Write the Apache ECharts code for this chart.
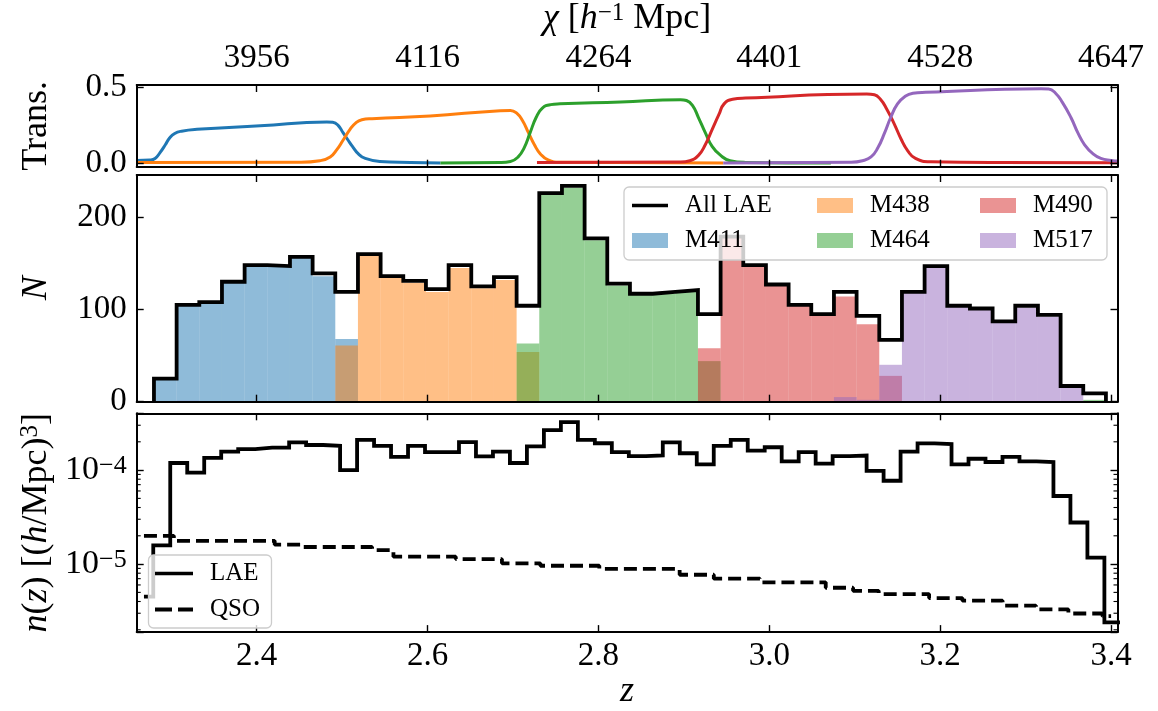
<!DOCTYPE html>
<html>
<head>
<meta charset="utf-8">
<script src="https://cdn.jsdelivr.net/npm/echarts@6/dist/echarts.min.js"></script>
<style>
  html, body { margin: 0; padding: 0; background: #fff; }
  #chart { width: 1158px; height: 711px; }
</style>
</head>
<body>
<div id="chart"></div>
<script>
// ---- shared redshift axis ----
const Z_MIN = 2.2595, Z_MAX = 3.4075;
const zTicks = [2.4, 2.6, 2.8, 3.0, 3.2, 3.4];
const chiTickLabels = ['3956', '4116', '4264', '4401', '4528', '4647'];

// ---- filter transmission curves, [z, T] ----
const transM411 = [[2.2594,0.017],[2.275,0.02],[2.281,0.03],[2.287,0.07],[2.293,0.12],[2.298,0.165],[2.304,0.195],[2.312,0.21],[2.330,0.222],[2.404,0.245],[2.482,0.27],[2.489,0.268],[2.495,0.25],[2.501,0.20],[2.507,0.15],[2.512,0.11],[2.519,0.06],[2.527,0.03],[2.544,0.01],[2.580,0.003],[2.615,0.0]];
const transM438 = [[2.2594,0.003],[2.451,0.005],[2.474,0.015],[2.486,0.04],[2.494,0.09],[2.501,0.15],[2.509,0.22],[2.516,0.265],[2.523,0.285],[2.535,0.292],[2.603,0.31],[2.685,0.345],[2.697,0.347],[2.704,0.33],[2.711,0.28],[2.718,0.20],[2.725,0.12],[2.732,0.06],[2.741,0.02],[2.755,0.005],[2.946,0.0]];
const transM464 = [[2.615,0.0],[2.685,0.003],[2.697,0.01],[2.706,0.04],[2.713,0.10],[2.720,0.20],[2.727,0.30],[2.734,0.36],[2.744,0.385],[2.755,0.39],[2.826,0.403],[2.896,0.418],[2.903,0.412],[2.910,0.38],[2.917,0.30],[2.925,0.20],[2.933,0.11],[2.943,0.05],[2.954,0.015],[2.972,0.004],[3.072,0.0]];
const transM490 = [[2.728,0.004],[2.896,0.006],[2.907,0.015],[2.917,0.05],[2.925,0.12],[2.933,0.22],[2.941,0.32],[2.947,0.39],[2.957,0.42],[2.972,0.428],[3.114,0.455],[3.123,0.45],[3.130,0.42],[3.137,0.36],[3.146,0.26],[3.154,0.16],[3.162,0.08],[3.171,0.03],[3.189,0.008],[3.271,0.003],[3.409,0.002]];
const transM517 = [[2.946,0.0],[3.095,0.005],[3.109,0.015],[3.119,0.04],[3.127,0.10],[3.135,0.20],[3.142,0.30],[3.150,0.39],[3.159,0.44],[3.168,0.46],[3.183,0.466],[3.318,0.49],[3.327,0.488],[3.335,0.46],[3.343,0.40],[3.353,0.30],[3.361,0.20],[3.369,0.12],[3.379,0.06],[3.388,0.03],[3.400,0.017],[3.409,0.013]];

// ---- LAE counts per redshift bin (42 bins) ----
const countBinStart = 2.2797, countBinWidth = 0.02653;
const countAll  = [25,105,108,130,148,147,157,139,119,160,136,131,122,148,125,135,104,226,234,177,128,117,119,121,95,179,148,127,105,95,119,93,67,119,147,104,101,87,104,94,17,9];
const countM411 = [25,104,107,129,147,146,156,136,68,0,0,0,0,0,0,0,0,0,0,0,0,0,0,0,0,0,0,0,0,0,0,0,0,0,0,0,0,0,0,0,0,0];
const countM438 = [0,0,0,0,0,0,0,0,61,158,134,129,119,145,123,132,54,0,0,0,0,0,0,0,0,0,0,0,0,0,0,0,0,0,0,0,0,0,0,0,0,0];
const countM464 = [0,0,0,0,0,0,0,0,0,0,0,0,0,0,0,0,63,224,232,175,126,116,117,119,44,0,0,0,0,0,0,0,0,0,0,0,0,0,0,0,0,2];
const countM490 = [0,0,0,0,0,0,0,0,0,0,0,0,0,0,0,0,0,0,0,0,0,0,0,0,58,179,147,126,104,93,114,84,28,0,0,0,0,0,0,0,0,0];
const countM517 = [0,1,0,0,0,0,0,0,0,0,0,0,0,0,0,0,0,0,0,0,0,0,0,0,0,0,0,0,0,0,5,2,40,118,147,104,102,86,102,92,16,0];

// ---- number density n(z) ----
// LAE bins: the first bin is partial and begins where the sample starts
const nzSampleStart = 2.268;
const nzBinStart = 2.259, nzBinWidth = 0.01988;
const nzLAE = [4.5e-6,1.58e-5,1.19e-4,9.4e-5,1.35e-4,1.57e-4,1.67e-4,1.73e-4,1.73e-4,1.97e-4,1.85e-4,1.81e-4,1.0e-4,2.10e-4,1.81e-4,1.38e-4,1.81e-4,1.55e-4,1.55e-4,1.98e-4,1.40e-4,1.57e-4,1.19e-4,1.79e-4,2.66e-4,3.24e-4,2.10e-4,1.93e-4,1.55e-4,1.41e-4,1.43e-4,1.97e-4,1.51e-4,1.15e-4,1.81e-4,2.10e-4,1.61e-4,1.75e-4,1.24e-4,1.55e-4,1.17e-4,1.41e-4,1.43e-4,9.8e-5,7.7e-5,1.57e-4,1.92e-4,1.89e-4,1.15e-4,1.32e-4,1.22e-4,1.38e-4,1.24e-4,1.22e-4,5.3e-5,2.77e-5,1.17e-5,2.4e-6];
const qsoZ = [2.268,2.303,2.421,2.455,2.535,2.560,2.633,2.687,2.732,2.801,2.895,2.935,2.989,3.066,3.098,3.128,3.187,3.226,3.273,3.312,3.350,3.390];
const qsoN = [2.00e-5,1.77e-5,1.61e-5,1.52e-5,1.41e-5,1.20e-5,1.13e-5,1.02e-5,9.6e-6,8.9e-6,7.7e-6,7.0e-6,6.4e-6,5.6e-6,5.2e-6,4.8e-6,4.35e-6,4.08e-6,3.62e-6,3.30e-6,2.98e-6,2.79e-6];
const logMinorTicks = [2e-6,3e-6,4e-6,5e-6,6e-6,7e-6,8e-6,9e-6,2e-5,3e-5,4e-5,5e-5,6e-5,7e-5,8e-5,9e-5,2e-4,3e-4,4e-4];

// ---- styles ----
const FONT = 'Liberation Serif';
const TICK_FS = 33, NAME_FS = 36, LEG_FS = 25;
const LINE_W = 3.8;
const C = {
  M411: '#1f77b4', M438: '#ff7f0e', M464: '#2ca02c', M490: '#d62728', M517: '#9467bd'
};
const FILL = {
  M411: 'rgba(31,119,180,0.5)', M438: 'rgba(255,127,14,0.5)', M464: 'rgba(44,160,44,0.5)',
  M490: 'rgba(214,39,40,0.5)', M517: 'rgba(148,103,189,0.5)'
};
const ICON_SOLID = 'rect';
const ICON_DASHED = 'path://M0,0H17V4H0ZM23,0H38V4H23Z';

// ---- helpers that turn binned values into drawable data ----
function histBars(start, width, counts) {
  return counts.map((n, i) => [start + i * width, start + (i + 1) * width, n]);
}
function stepOutline(start, width, values, closeToZero, firstEdge) {
  const pts = [];
  const edge = i => (i === 0 && firstEdge != null) ? firstEdge : start + i * width;
  if (closeToZero) pts.push([edge(0), 0]);
  values.forEach((v, i) => {
    pts.push([edge(i), v]);
    pts.push([edge(i + 1), v]);
  });
  if (closeToZero) pts.push([edge(values.length), 0]);
  return pts;
}
function stepFromStarts(xs, ys, xEnd) {
  const pts = [];
  xs.forEach((x, i) => {
    const next = i + 1 < xs.length ? xs[i + 1] : xEnd;
    pts.push([x, ys[i]]);
    pts.push([next, ys[i]]);
  });
  return pts;
}

const tickBase = { show: true, inside: true, length: 7, lineStyle: { color: '#000', width: 1.4 } };
const spine = { show: true, onZero: false, lineStyle: { color: '#000', width: 2 } };
const labelBase = { fontFamily: FONT, fontSize: TICK_FS, color: '#000' };
const nameRich = {
  i: { fontFamily: FONT, fontSize: NAME_FS, fontStyle: 'italic', color: '#000' },
  r: { fontFamily: FONT, fontSize: NAME_FS, color: '#000' },
  s: { fontFamily: FONT, fontSize: 25, color: '#000', verticalAlign: 'top' }
};

function zAxis(gridIndex, position, extra) {
  return Object.assign({
    type: 'value', gridIndex: gridIndex, position: position, min: Z_MIN, max: Z_MAX, z: 10,
    axisLine: spine, splitLine: { show: false },
    axisTick: Object.assign({}, tickBase, { customValues: zTicks }),
    axisLabel: { show: false, customValues: zTicks }
  }, extra || {});
}
function yAxisDef(gridIndex, position, min, max, ticks, extra) {
  return Object.assign({
    type: 'value', gridIndex: gridIndex, position: position, min: min, max: max, z: 10,
    axisLine: spine, splitLine: { show: false },
    axisTick: Object.assign({}, tickBase, { customValues: ticks }),
    axisLabel: { show: false, customValues: ticks }
  }, extra || {});
}
function isDecade(v) {
  const l = Math.log10(v);
  return Math.abs(l - Math.round(l)) < 1e-6;
}

function barSeries(name, counts) {
  const fill = FILL[name];
  return {
    name: name, type: 'custom', xAxisIndex: 2, yAxisIndex: 2, z: 2,
    itemStyle: { color: fill },
    encode: { x: [0, 1], y: 2 },
    data: histBars(countBinStart, countBinWidth, counts),
    renderItem: function (params, api) {
      const n = api.value(2);
      if (!n) return null;
      const a = api.coord([api.value(0), n]);
      const b = api.coord([api.value(1), 0]);
      return { type: 'rect', shape: { x: a[0], y: a[1], width: b[0] - a[0], height: b[1] - a[1] }, style: { fill: fill } };
    }
  };
}
function transSeries(name, pts) {
  return {
    name: name + ' filter', type: 'line', xAxisIndex: 0, yAxisIndex: 0,
    data: pts, showSymbol: false, symbol: 'none', smooth: 0.5,
    lineStyle: { color: C[name], width: 3 }, itemStyle: { color: C[name] }, clip: true
  };
}
function legendAt(name, left, top, icon, itemWidth, itemHeight) {
  return {
    left: left, top: top, padding: 0, itemGap: 0, itemWidth: itemWidth, itemHeight: itemHeight,
    selectedMode: false, z: 120, data: [{ name: name, icon: icon }],
    textStyle: { fontFamily: FONT, fontSize: LEG_FS, color: '#000', padding: [0, 0, 0, 12] }
  };
}

const chart = echarts.init(document.getElementById('chart'), null, { renderer: 'canvas' });

chart.setOption({
  animation: false,
  backgroundColor: '#ffffff',
  grid: [
    { left: 136.7, top: 81.7, width: 980.8, height: 85 },
    { left: 136.7, top: 175, width: 980.8, height: 226.7 },
    { left: 136.7, top: 413.3, width: 980.8, height: 225 }
  ],
  xAxis: [
    zAxis(0, 'bottom'),
    zAxis(0, 'top', {
      axisLabel: Object.assign({ show: true, customValues: zTicks, margin: 10,
        formatter: function (v) {
          const i = zTicks.findIndex(t => Math.abs(t - v) < 1e-6);
          return i >= 0 ? chiTickLabels[i] : '';
        } }, labelBase),
      name: '{i|χ}{r| [}{i|h}{s|−1}{r| Mpc]}', nameLocation: 'middle', nameGap: 48,
      nameTextStyle: { rich: nameRich }
    }),
    zAxis(1, 'bottom'),
    zAxis(1, 'top'),
    zAxis(2, 'bottom', {
      axisLabel: Object.assign({ show: true, customValues: zTicks, margin: 8,
        formatter: v => v.toFixed(1) }, labelBase),
      name: '{i|z}', nameLocation: 'middle', nameGap: 36,
      nameTextStyle: { rich: nameRich }
    }),
    zAxis(2, 'top')
  ],
  yAxis: [
    yAxisDef(0, 'left', -0.0245, 0.5145, [0, 0.5], {
      axisLabel: Object.assign({ show: true, customValues: [0, 0.5], margin: 10, formatter: v => v.toFixed(1) }, labelBase),
      name: '{r|Trans.}', nameLocation: 'middle', nameRotate: 90, nameGap: 82,
      nameTextStyle: { rich: nameRich }
    }),
    yAxisDef(0, 'right', -0.0245, 0.5145, [0, 0.5]),
    yAxisDef(1, 'left', 0, 245.7, [0, 100, 200], {
      axisLabel: Object.assign({ show: true, customValues: [0, 100, 200], margin: 10 }, labelBase),
      name: '{i|N}', nameLocation: 'middle', nameRotate: 90, nameGap: 82,
      nameTextStyle: { rich: nameRich }
    }),
    yAxisDef(1, 'right', 0, 245.7, [0, 100, 200]),
    {
      type: 'log', logBase: 10, gridIndex: 2, position: 'left', min: 1.89e-6, max: 4.02e-4, z: 10,
      axisLine: spine, splitLine: { show: false }, axisTick: tickBase,
      axisLabel: Object.assign({ show: true, margin: 10,
        formatter: function (v) {
          if (!isDecade(v)) return '';
          return '{b|10}{e|−' + Math.round(-Math.log10(v)) + '}';
        },
        rich: {
          b: { fontFamily: FONT, fontSize: 34, color: '#000' },
          e: { fontFamily: FONT, fontSize: 26, color: '#000', verticalAlign: 'top' }
        } }, labelBase),
      name: '{i|n}{r|(}{i|z}{r|) [(}{i|h}{r|/Mpc)}{s|3}{r|]}', nameLocation: 'middle', nameRotate: 90, nameGap: 82,
      nameTextStyle: { rich: nameRich }
    },
    {
      type: 'log', logBase: 10, gridIndex: 2, position: 'right', min: 1.89e-6, max: 4.02e-4, z: 10,
      axisLine: spine, splitLine: { show: false }, axisTick: tickBase, axisLabel: { show: false }
    }
  ],
  legend: [
    legendAt('All LAE', 632, 193, ICON_SOLID, 36, 3.5),
    legendAt('M438', 817, 193, 'rect', 36, 15),
    legendAt('M490', 980, 193, 'rect', 36, 15),
    legendAt('M411', 632, 228, 'rect', 36, 15),
    legendAt('M464', 817, 228, 'rect', 36, 15),
    legendAt('M517', 980, 228, 'rect', 36, 15),
    legendAt('LAE', 155, 561, ICON_SOLID, 38, 3.5),
    legendAt('QSO', 155, 597, ICON_DASHED, 38, 4)
  ],
  graphic: [
    { type: 'rect', z: 100, shape: { x: 624, y: 187, width: 483, height: 73, r: 5 },
      style: { fill: 'rgba(255,255,255,0.8)', stroke: '#cccccc', lineWidth: 1.3 } },
    { type: 'rect', z: 100, shape: { x: 148.5, y: 555, width: 123, height: 73, r: 5 },
      style: { fill: 'rgba(255,255,255,0.8)', stroke: '#cccccc', lineWidth: 1.3 } }
  ],
  series: [
    transSeries('M411', transM411),
    transSeries('M438', transM438),
    transSeries('M464', transM464),
    transSeries('M490', transM490),
    transSeries('M517', transM517),

    barSeries('M411', countM411),
    barSeries('M438', countM438),
    barSeries('M464', countM464),
    barSeries('M490', countM490),
    barSeries('M517', countM517),
    {
      name: 'All LAE', type: 'line', xAxisIndex: 2, yAxisIndex: 2, z: 4,
      data: stepOutline(countBinStart, countBinWidth, countAll, true),
      symbol: 'none', showSymbol: false,
      lineStyle: { color: '#000', width: LINE_W, join: 'miter' }, itemStyle: { color: '#000' }
    },

    {
      name: 'LAE', type: 'line', xAxisIndex: 4, yAxisIndex: 4, z: 4,
      data: stepOutline(nzBinStart, nzBinWidth, nzLAE, false, nzSampleStart),
      symbol: 'none', showSymbol: false,
      lineStyle: { color: '#000', width: LINE_W, join: 'miter' }, itemStyle: { color: '#000' }
    },
    {
      name: 'QSO', type: 'line', xAxisIndex: 4, yAxisIndex: 4, z: 4,
      data: stepFromStarts(qsoZ, qsoN, 3.40),
      symbol: 'none', showSymbol: false,
      lineStyle: { color: '#000', width: LINE_W, type: [13, 6] }, itemStyle: { color: '#000' }
    },
    {
      name: 'log minor ticks', type: 'custom', xAxisIndex: 4, yAxisIndex: 4, z: 11, silent: true,
      encode: { x: 0, y: 1 },
      data: logMinorTicks.map(v => [Z_MIN, v]),
      renderItem: function (params, api) {
        const v = api.value(1);
        const l = api.coord([Z_MIN, v]);
        const r = api.coord([Z_MAX, v]);
        return { type: 'group', children: [
          { type: 'line', shape: { x1: l[0], y1: l[1], x2: l[0] + 4, y2: l[1] }, style: { stroke: '#000', lineWidth: 1.1 } },
          { type: 'line', shape: { x1: r[0], y1: r[1], x2: r[0] - 4, y2: r[1] }, style: { stroke: '#000', lineWidth: 1.1 } }
        ] };
      }
    }
  ]
});
</script>
</body>
</html>
